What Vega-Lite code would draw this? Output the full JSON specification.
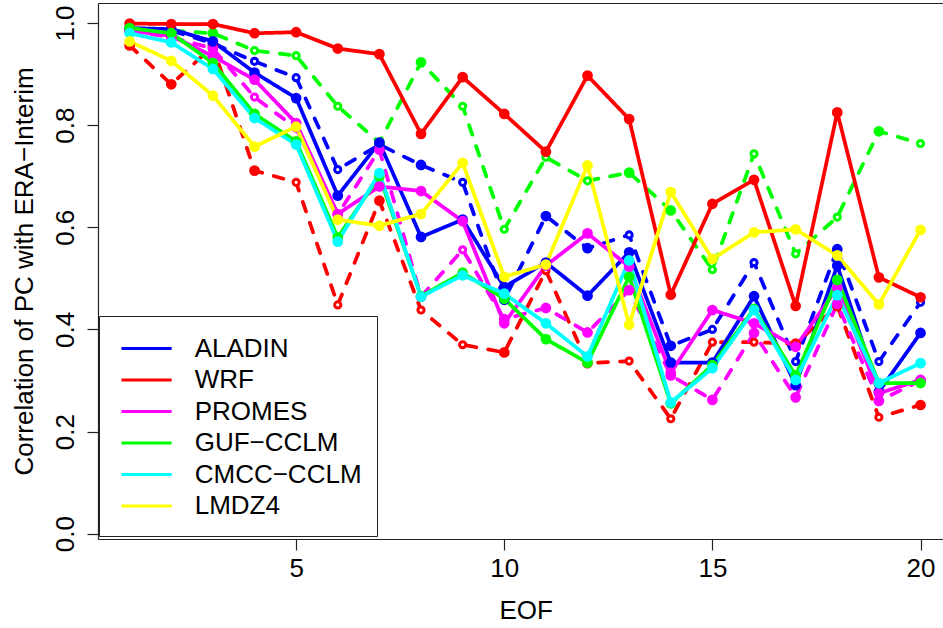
{
"$schema": "https://vega.github.io/schema/vega-lite/v6.json",
"width": 845, "height": 536,
"autosize": {"type": "none"},
"padding": {"left": 98, "top": 3, "right": 0, "bottom": 89},
"background": "white",
"config": {"view": {"stroke": null}, "font": "Liberation Sans", "text": {"font": "Liberation Sans"}},
"data": {"values": [
{"model":"ALADIN","run":"b","eof":1,"corr":0.985,"sig":1},{"model":"ALADIN","run":"b","eof":2,"corr":0.985,"sig":1},{"model":"ALADIN","run":"b","eof":3,"corr":0.960,"sig":1},{"model":"ALADIN","run":"b","eof":4,"corr":0.925,"sig":0},{"model":"ALADIN","run":"b","eof":5,"corr":0.893,"sig":0},{"model":"ALADIN","run":"b","eof":6,"corr":0.713,"sig":0},{"model":"ALADIN","run":"b","eof":7,"corr":0.762,"sig":1},{"model":"ALADIN","run":"b","eof":8,"corr":0.722,"sig":1},{"model":"ALADIN","run":"b","eof":9,"corr":0.688,"sig":0},{"model":"ALADIN","run":"b","eof":10,"corr":0.458,"sig":1},{"model":"ALADIN","run":"b","eof":11,"corr":0.622,"sig":1},{"model":"ALADIN","run":"b","eof":12,"corr":0.559,"sig":1},{"model":"ALADIN","run":"b","eof":13,"corr":0.585,"sig":0},{"model":"ALADIN","run":"b","eof":14,"corr":0.368,"sig":1},{"model":"ALADIN","run":"b","eof":15,"corr":0.400,"sig":0},{"model":"ALADIN","run":"b","eof":16,"corr":0.531,"sig":0},{"model":"ALADIN","run":"b","eof":17,"corr":0.337,"sig":0},{"model":"ALADIN","run":"b","eof":18,"corr":0.557,"sig":1},{"model":"ALADIN","run":"b","eof":19,"corr":0.337,"sig":0},{"model":"ALADIN","run":"b","eof":20,"corr":0.453,"sig":0},
{"model":"WRF","run":"b","eof":1,"corr":0.956,"sig":1},{"model":"WRF","run":"b","eof":2,"corr":0.880,"sig":1},{"model":"WRF","run":"b","eof":3,"corr":0.954,"sig":1},{"model":"WRF","run":"b","eof":4,"corr":0.711,"sig":1},{"model":"WRF","run":"b","eof":5,"corr":0.688,"sig":0},{"model":"WRF","run":"b","eof":6,"corr":0.448,"sig":0},{"model":"WRF","run":"b","eof":7,"corr":0.652,"sig":1},{"model":"WRF","run":"b","eof":8,"corr":0.438,"sig":0},{"model":"WRF","run":"b","eof":9,"corr":0.370,"sig":0},{"model":"WRF","run":"b","eof":10,"corr":0.355,"sig":1},{"model":"WRF","run":"b","eof":11,"corr":0.515,"sig":0},{"model":"WRF","run":"b","eof":12,"corr":0.334,"sig":1},{"model":"WRF","run":"b","eof":13,"corr":0.338,"sig":0},{"model":"WRF","run":"b","eof":14,"corr":0.225,"sig":0},{"model":"WRF","run":"b","eof":15,"corr":0.375,"sig":0},{"model":"WRF","run":"b","eof":16,"corr":0.375,"sig":0},{"model":"WRF","run":"b","eof":17,"corr":0.372,"sig":1},{"model":"WRF","run":"b","eof":18,"corr":0.446,"sig":1},{"model":"WRF","run":"b","eof":19,"corr":0.228,"sig":0},{"model":"WRF","run":"b","eof":20,"corr":0.252,"sig":1},
{"model":"PROMES","run":"b","eof":1,"corr":0.985,"sig":1},{"model":"PROMES","run":"b","eof":2,"corr":0.972,"sig":1},{"model":"PROMES","run":"b","eof":3,"corr":0.950,"sig":1},{"model":"PROMES","run":"b","eof":4,"corr":0.855,"sig":0},{"model":"PROMES","run":"b","eof":5,"corr":0.794,"sig":0},{"model":"PROMES","run":"b","eof":6,"corr":0.625,"sig":1},{"model":"PROMES","run":"b","eof":7,"corr":0.752,"sig":1},{"model":"PROMES","run":"b","eof":8,"corr":0.464,"sig":1},{"model":"PROMES","run":"b","eof":9,"corr":0.556,"sig":0},{"model":"PROMES","run":"b","eof":10,"corr":0.420,"sig":1},{"model":"PROMES","run":"b","eof":11,"corr":0.442,"sig":1},{"model":"PROMES","run":"b","eof":12,"corr":0.394,"sig":1},{"model":"PROMES","run":"b","eof":13,"corr":0.477,"sig":1},{"model":"PROMES","run":"b","eof":14,"corr":0.310,"sig":1},{"model":"PROMES","run":"b","eof":15,"corr":0.262,"sig":1},{"model":"PROMES","run":"b","eof":16,"corr":0.393,"sig":1},{"model":"PROMES","run":"b","eof":17,"corr":0.267,"sig":1},{"model":"PROMES","run":"b","eof":18,"corr":0.450,"sig":1},{"model":"PROMES","run":"b","eof":19,"corr":0.260,"sig":1},{"model":"PROMES","run":"b","eof":20,"corr":0.300,"sig":1},
{"model":"GUF−CCLM","run":"b","eof":1,"corr":0.990,"sig":1},{"model":"GUF−CCLM","run":"b","eof":2,"corr":0.985,"sig":1},{"model":"GUF−CCLM","run":"b","eof":3,"corr":0.980,"sig":1},{"model":"GUF−CCLM","run":"b","eof":4,"corr":0.946,"sig":0},{"model":"GUF−CCLM","run":"b","eof":5,"corr":0.936,"sig":0},{"model":"GUF−CCLM","run":"b","eof":6,"corr":0.837,"sig":0},{"model":"GUF−CCLM","run":"b","eof":7,"corr":0.766,"sig":1},{"model":"GUF−CCLM","run":"b","eof":8,"corr":0.923,"sig":1},{"model":"GUF−CCLM","run":"b","eof":9,"corr":0.837,"sig":0},{"model":"GUF−CCLM","run":"b","eof":10,"corr":0.596,"sig":0},{"model":"GUF−CCLM","run":"b","eof":11,"corr":0.737,"sig":0},{"model":"GUF−CCLM","run":"b","eof":12,"corr":0.691,"sig":0},{"model":"GUF−CCLM","run":"b","eof":13,"corr":0.707,"sig":1},{"model":"GUF−CCLM","run":"b","eof":14,"corr":0.633,"sig":1},{"model":"GUF−CCLM","run":"b","eof":15,"corr":0.517,"sig":0},{"model":"GUF−CCLM","run":"b","eof":16,"corr":0.744,"sig":0},{"model":"GUF−CCLM","run":"b","eof":17,"corr":0.548,"sig":0},{"model":"GUF−CCLM","run":"b","eof":18,"corr":0.620,"sig":0},{"model":"GUF−CCLM","run":"b","eof":19,"corr":0.788,"sig":1},{"model":"GUF−CCLM","run":"b","eof":20,"corr":0.764,"sig":0},
{"model":"ALADIN","run":"a","eof":1,"corr":0.990,"sig":1},{"model":"ALADIN","run":"a","eof":2,"corr":0.988,"sig":1},{"model":"ALADIN","run":"a","eof":3,"corr":0.964,"sig":1},{"model":"ALADIN","run":"a","eof":4,"corr":0.903,"sig":1},{"model":"ALADIN","run":"a","eof":5,"corr":0.853,"sig":1},{"model":"ALADIN","run":"a","eof":6,"corr":0.662,"sig":1},{"model":"ALADIN","run":"a","eof":7,"corr":0.766,"sig":1},{"model":"ALADIN","run":"a","eof":8,"corr":0.581,"sig":1},{"model":"ALADIN","run":"a","eof":9,"corr":0.615,"sig":1},{"model":"ALADIN","run":"a","eof":10,"corr":0.483,"sig":1},{"model":"ALADIN","run":"a","eof":11,"corr":0.531,"sig":1},{"model":"ALADIN","run":"a","eof":12,"corr":0.466,"sig":1},{"model":"ALADIN","run":"a","eof":13,"corr":0.551,"sig":1},{"model":"ALADIN","run":"a","eof":14,"corr":0.335,"sig":1},{"model":"ALADIN","run":"a","eof":15,"corr":0.335,"sig":1},{"model":"ALADIN","run":"a","eof":16,"corr":0.465,"sig":1},{"model":"ALADIN","run":"a","eof":17,"corr":0.291,"sig":1},{"model":"ALADIN","run":"a","eof":18,"corr":0.525,"sig":1},{"model":"ALADIN","run":"a","eof":19,"corr":0.278,"sig":1},{"model":"ALADIN","run":"a","eof":20,"corr":0.393,"sig":1},
{"model":"WRF","run":"a","eof":1,"corr":0.999,"sig":1},{"model":"WRF","run":"a","eof":2,"corr":0.998,"sig":1},{"model":"WRF","run":"a","eof":3,"corr":0.998,"sig":1},{"model":"WRF","run":"a","eof":4,"corr":0.980,"sig":1},{"model":"WRF","run":"a","eof":5,"corr":0.982,"sig":1},{"model":"WRF","run":"a","eof":6,"corr":0.950,"sig":1},{"model":"WRF","run":"a","eof":7,"corr":0.939,"sig":1},{"model":"WRF","run":"a","eof":8,"corr":0.783,"sig":1},{"model":"WRF","run":"a","eof":9,"corr":0.894,"sig":1},{"model":"WRF","run":"a","eof":10,"corr":0.822,"sig":1},{"model":"WRF","run":"a","eof":11,"corr":0.748,"sig":1},{"model":"WRF","run":"a","eof":12,"corr":0.897,"sig":1},{"model":"WRF","run":"a","eof":13,"corr":0.812,"sig":1},{"model":"WRF","run":"a","eof":14,"corr":0.468,"sig":1},{"model":"WRF","run":"a","eof":15,"corr":0.646,"sig":1},{"model":"WRF","run":"a","eof":16,"corr":0.693,"sig":1},{"model":"WRF","run":"a","eof":17,"corr":0.446,"sig":1},{"model":"WRF","run":"a","eof":18,"corr":0.825,"sig":1},{"model":"WRF","run":"a","eof":19,"corr":0.502,"sig":1},{"model":"WRF","run":"a","eof":20,"corr":0.463,"sig":1},
{"model":"PROMES","run":"a","eof":1,"corr":0.985,"sig":1},{"model":"PROMES","run":"a","eof":2,"corr":0.975,"sig":1},{"model":"PROMES","run":"a","eof":3,"corr":0.935,"sig":1},{"model":"PROMES","run":"a","eof":4,"corr":0.889,"sig":1},{"model":"PROMES","run":"a","eof":5,"corr":0.804,"sig":1},{"model":"PROMES","run":"a","eof":6,"corr":0.626,"sig":1},{"model":"PROMES","run":"a","eof":7,"corr":0.680,"sig":1},{"model":"PROMES","run":"a","eof":8,"corr":0.671,"sig":1},{"model":"PROMES","run":"a","eof":9,"corr":0.612,"sig":1},{"model":"PROMES","run":"a","eof":10,"corr":0.412,"sig":1},{"model":"PROMES","run":"a","eof":11,"corr":0.525,"sig":1},{"model":"PROMES","run":"a","eof":12,"corr":0.588,"sig":1},{"model":"PROMES","run":"a","eof":13,"corr":0.523,"sig":1},{"model":"PROMES","run":"a","eof":14,"corr":0.315,"sig":1},{"model":"PROMES","run":"a","eof":15,"corr":0.438,"sig":1},{"model":"PROMES","run":"a","eof":16,"corr":0.412,"sig":1},{"model":"PROMES","run":"a","eof":17,"corr":0.366,"sig":1},{"model":"PROMES","run":"a","eof":18,"corr":0.481,"sig":1},{"model":"PROMES","run":"a","eof":19,"corr":0.275,"sig":1},{"model":"PROMES","run":"a","eof":20,"corr":0.301,"sig":1},
{"model":"GUF−CCLM","run":"a","eof":1,"corr":0.990,"sig":1},{"model":"GUF−CCLM","run":"a","eof":2,"corr":0.980,"sig":1},{"model":"GUF−CCLM","run":"a","eof":3,"corr":0.922,"sig":1},{"model":"GUF−CCLM","run":"a","eof":4,"corr":0.822,"sig":1},{"model":"GUF−CCLM","run":"a","eof":5,"corr":0.768,"sig":1},{"model":"GUF−CCLM","run":"a","eof":6,"corr":0.580,"sig":1},{"model":"GUF−CCLM","run":"a","eof":7,"corr":0.700,"sig":1},{"model":"GUF−CCLM","run":"a","eof":8,"corr":0.465,"sig":1},{"model":"GUF−CCLM","run":"a","eof":9,"corr":0.511,"sig":1},{"model":"GUF−CCLM","run":"a","eof":10,"corr":0.460,"sig":1},{"model":"GUF−CCLM","run":"a","eof":11,"corr":0.381,"sig":1},{"model":"GUF−CCLM","run":"a","eof":12,"corr":0.335,"sig":1},{"model":"GUF−CCLM","run":"a","eof":13,"corr":0.503,"sig":1},{"model":"GUF−CCLM","run":"a","eof":14,"corr":0.255,"sig":1},{"model":"GUF−CCLM","run":"a","eof":15,"corr":0.330,"sig":1},{"model":"GUF−CCLM","run":"a","eof":16,"corr":0.440,"sig":1},{"model":"GUF−CCLM","run":"a","eof":17,"corr":0.310,"sig":1},{"model":"GUF−CCLM","run":"a","eof":18,"corr":0.497,"sig":1},{"model":"GUF−CCLM","run":"a","eof":19,"corr":0.295,"sig":1},{"model":"GUF−CCLM","run":"a","eof":20,"corr":0.295,"sig":1},
{"model":"CMCC−CCLM","run":"a","eof":1,"corr":0.980,"sig":1},{"model":"CMCC−CCLM","run":"a","eof":2,"corr":0.962,"sig":1},{"model":"CMCC−CCLM","run":"a","eof":3,"corr":0.910,"sig":1},{"model":"CMCC−CCLM","run":"a","eof":4,"corr":0.814,"sig":1},{"model":"CMCC−CCLM","run":"a","eof":5,"corr":0.762,"sig":1},{"model":"CMCC−CCLM","run":"a","eof":6,"corr":0.572,"sig":1},{"model":"CMCC−CCLM","run":"a","eof":7,"corr":0.706,"sig":1},{"model":"CMCC−CCLM","run":"a","eof":8,"corr":0.464,"sig":1},{"model":"CMCC−CCLM","run":"a","eof":9,"corr":0.506,"sig":1},{"model":"CMCC−CCLM","run":"a","eof":10,"corr":0.470,"sig":1},{"model":"CMCC−CCLM","run":"a","eof":11,"corr":0.412,"sig":1},{"model":"CMCC−CCLM","run":"a","eof":12,"corr":0.347,"sig":1},{"model":"CMCC−CCLM","run":"a","eof":13,"corr":0.535,"sig":1},{"model":"CMCC−CCLM","run":"a","eof":14,"corr":0.257,"sig":1},{"model":"CMCC−CCLM","run":"a","eof":15,"corr":0.324,"sig":1},{"model":"CMCC−CCLM","run":"a","eof":16,"corr":0.438,"sig":1},{"model":"CMCC−CCLM","run":"a","eof":17,"corr":0.301,"sig":1},{"model":"CMCC−CCLM","run":"a","eof":18,"corr":0.467,"sig":1},{"model":"CMCC−CCLM","run":"a","eof":19,"corr":0.295,"sig":1},{"model":"CMCC−CCLM","run":"a","eof":20,"corr":0.334,"sig":1},
{"model":"LMDZ4","run":"a","eof":1,"corr":0.964,"sig":1},{"model":"LMDZ4","run":"a","eof":2,"corr":0.926,"sig":1},{"model":"LMDZ4","run":"a","eof":3,"corr":0.858,"sig":1},{"model":"LMDZ4","run":"a","eof":4,"corr":0.758,"sig":1},{"model":"LMDZ4","run":"a","eof":5,"corr":0.797,"sig":1},{"model":"LMDZ4","run":"a","eof":6,"corr":0.615,"sig":1},{"model":"LMDZ4","run":"a","eof":7,"corr":0.603,"sig":1},{"model":"LMDZ4","run":"a","eof":8,"corr":0.626,"sig":1},{"model":"LMDZ4","run":"a","eof":9,"corr":0.726,"sig":1},{"model":"LMDZ4","run":"a","eof":10,"corr":0.503,"sig":1},{"model":"LMDZ4","run":"a","eof":11,"corr":0.527,"sig":1},{"model":"LMDZ4","run":"a","eof":12,"corr":0.721,"sig":1},{"model":"LMDZ4","run":"a","eof":13,"corr":0.409,"sig":1},{"model":"LMDZ4","run":"a","eof":14,"corr":0.669,"sig":1},{"model":"LMDZ4","run":"a","eof":15,"corr":0.538,"sig":1},{"model":"LMDZ4","run":"a","eof":16,"corr":0.590,"sig":1},{"model":"LMDZ4","run":"a","eof":17,"corr":0.596,"sig":1},{"model":"LMDZ4","run":"a","eof":18,"corr":0.545,"sig":1},{"model":"LMDZ4","run":"a","eof":19,"corr":0.449,"sig":1},{"model":"LMDZ4","run":"a","eof":20,"corr":0.595,"sig":1}
]},
"encoding": {
  "x": {"field": "eof", "type": "quantitative",
    "scale": {"domain": [0.24, 20.54], "nice": false, "zero": false},
    "axis": {"values": [5, 10, 15, 20], "grid": false, "title": "EOF",
      "titleFont": "Liberation Sans", "titleFontSize": 26, "titleFontWeight": "normal", "titleColor": "black",
      "titleX": 427.7, "titleY": 79, "titleAlign": "center", "titleBaseline": "alphabetic", "titleAnchor": "start",
      "labelFont": "Liberation Sans", "labelFontSize": 26, "labelColor": "black", "labelPadding": 5, "labelBaseline": "top", "labelFlush": false, "labelOverlap": false,
      "tickSize": 11, "tickColor": "#222", "tickWidth": 1.2, "domainColor": "#222", "domainWidth": 1.2}},
  "y": {"field": "corr", "type": "quantitative",
    "scale": {"domain": [-0.0104, 1.0392], "nice": false, "zero": false},
    "axis": {"values": [0, 0.2, 0.4, 0.6, 0.8, 1.0], "format": ".1f", "grid": false,
      "title": "Correlation of PC with ERA−Interim",
      "titleFont": "Liberation Sans", "titleFontSize": 26, "titleFontWeight": "normal", "titleColor": "black",
      "titleAngle": 270, "titleX": -66, "titleY": 268, "titleAlign": "center", "titleBaseline": "alphabetic", "titleAnchor": "start",
      "labelFont": "Liberation Sans", "labelFontSize": 26, "labelColor": "black", "labelAngle": 270, "labelAlign": "center", "labelBaseline": "bottom", "labelPadding": 9, "labelFlush": false, "labelOverlap": false,
      "tickSize": 11, "tickColor": "#222", "tickWidth": 1.2, "domainColor": "#222", "domainWidth": 1.2}},
  "color": {"field": "model", "type": "nominal",
    "scale": {"domain": ["ALADIN", "WRF", "PROMES", "GUF−CCLM", "CMCC−CCLM", "LMDZ4"],
              "range": ["#0000FF", "#FF0000", "#FF00FF", "#00FF00", "#00FFFF", "#FFFF00"]},
    "legend": {"orient": "none", "legendX": 1, "legendY": 313, "title": " ", "titleOrient": "bottom", "titleFontSize": 2, "titlePadding": 0,
      "symbolType": "M-0.63,0H2.51", "symbolSize": 1024, "symbolStrokeWidth": 3, "symbolOpacity": 1,
      "labelFont": "Liberation Sans", "labelFontSize": 26, "labelColor": "black", "labelOffset": 45.7, "labelLimit": 0, "labelBaseline": "middle",
      "rowPadding": 0.5, "padding": 15, "strokeColor": "#222", "fillColor": "white", "cornerRadius": 0}}
},
"resolve": {"axis": {"x": "independent"}},
"layer": [
  {"mark": {"type": "line", "strokeWidth": 3.75, "strokeCap": "round", "strokeJoin": "round"},
   "encoding": {"strokeDash": {"field": "run", "type": "nominal", "scale": {"domain": ["a", "b"], "range": [[1, 0], [10, 12]]}, "legend": null}}},
  {"mark": {"type": "point", "shape": "circle", "filled": false, "strokeWidth": 3, "opacity": 1},
   "encoding": {
     "x": {"field": "eof", "type": "quantitative",
       "axis": {"orient": "top", "labels": false, "ticks": false, "title": null, "grid": false, "domainColor": "#222", "domainWidth": 1.2}},
     "fill": {"condition": {"test": "datum.sig == 1", "field": "model", "type": "nominal",
        "scale": {"domain": ["ALADIN", "WRF", "PROMES", "GUF−CCLM", "CMCC−CCLM", "LMDZ4"],
                  "range": ["#0000FF", "#FF0000", "#FF00FF", "#00FF00", "#00FFFF", "#FFFF00"]}, "legend": null},
        "value": "white"},
     "size": {"condition": {"test": "datum.sig == 1", "value": 60}, "value": 38}}}
]
}
